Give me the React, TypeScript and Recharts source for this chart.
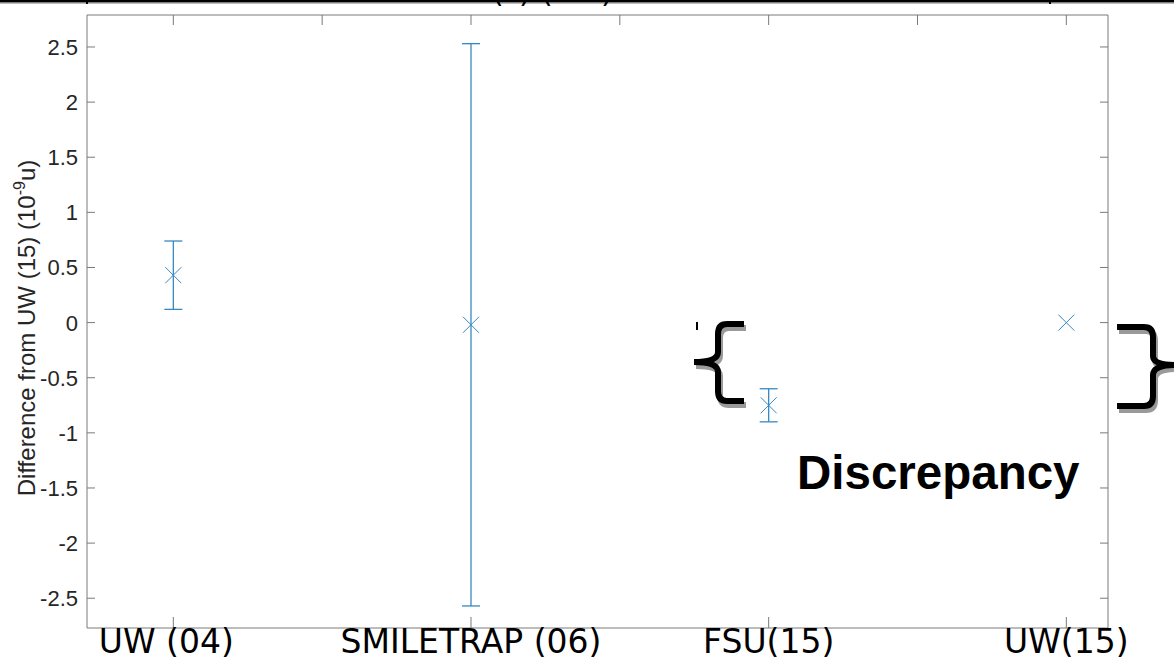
import React from "react";
import {
  ScatterChart,
  Scatter,
  XAxis,
  YAxis,
  ErrorBar,
} from "recharts";

// ---------------------------------------------------------------------------
// Data
// ---------------------------------------------------------------------------

const categories = ["UW (04)", "SMILETRAP (06)", "FSU(15)", "UW(15)"];
const positions = [1, 2, 3, 4];
const differences = [0.43, -0.02, -0.75, 0.0];
const uncertainties: (number | null)[] = [0.31, 2.55, 0.15, null];

const yTicks = [-2.5, -2, -1.5, -1, -0.5, 0, 0.5, 1, 1.5, 2, 2.5];
const topTicks = [1, 1.5, 2, 2.5, 3, 3.5, 4];

const points = positions.map((pos, i) => ({
  pos,
  diff: differences[i],
  err: uncertainties[i],
}));

// ---------------------------------------------------------------------------
// Styles
// ---------------------------------------------------------------------------

const W = 1174;
const H = 659;
const BLUE = "#3589c2";
const AXIS = "#7a7a7a";
const TICK_FONT = '"Liberation Sans", Arial, sans-serif';
const CAT_FONT = '"DejaVu Sans", sans-serif';
const X_DOMAIN: [number, number] = [0.71, 4.14];
const Y_DOMAIN: [number, number] = [-2.77, 2.79];

function CrossMarker(props: any) {
  const { cx, cy } = props;
  if (cx == null || cy == null) return null;
  const s = 8;
  return (
    <g stroke={BLUE} strokeWidth={1}>
      <line x1={cx - s} y1={cy - s} x2={cx + s} y2={cy + s} />
      <line x1={cx - s} y1={cy + s} x2={cx + s} y2={cy - s} />
    </g>
  );
}

function EmptyTick() {
  return <g />;
}

// category labels under the axis; the first one sits a little left of its tick
function CategoryTick(props: any) {
  const { x, y, payload, index } = props;
  const label = categories[positions.indexOf(payload.value)] ?? "";
  return (
    <text
      x={x + (index === 0 ? -7 : 0)}
      y={y + 22}
      textAnchor="middle"
      fontFamily={CAT_FONT}
      fontSize={33}
      fill="#000"
    >
      {label}
    </text>
  );
}

function ValueTick(props: any) {
  const { x, y, payload } = props;
  return (
    <text
      x={x}
      y={y + 8}
      textAnchor="end"
      fontFamily={TICK_FONT}
      fontSize={22}
      fill="#262626"
    >
      {String(payload.value)}
    </text>
  );
}

// annotations drawn on top of the chart
function Overlay() {
  const leftBrace =
    "M 744 324 L 727 324 Q 718 324 718 334 L 718 352 Q 718 362 694 362 Q 718 362 718 372 L 718 391 Q 718 401 727 401 L 744 401";
  const rightBrace =
    "M 1117 327 L 1144 327 Q 1153 327 1153 337 L 1153 356 Q 1153 365 1176 365 Q 1153 365 1153 375 L 1153 396 Q 1153 406 1144 406 L 1117 406";
  return (
    <svg
      width={W}
      height={H}
      style={{ position: "absolute", left: 0, top: 0, pointerEvents: "none" }}
    >
      {/* remains of the slide header */}
      <rect x={0} y={0} width={W} height={2.5} fill="#000" />
      <line x1={0} y1={3.5} x2={W} y2={3.5} stroke="#bbb" strokeWidth={1} />
      <line x1={87} y1={0} x2={87} y2={4} stroke="#000" strokeWidth={2} />
      <line x1={1050} y1={0} x2={1050} y2={4} stroke="#000" strokeWidth={2} />
      <g fontFamily={CAT_FONT} fontSize={30} fill="#000">
        <text x={492} y={2}>(</text>
        <text x={519} y={2}>)</text>
        <text x={541} y={2}>(</text>
        <text x={601} y={2}>)</text>
      </g>

      {/* y axis title */}
      <text
        x={35}
        y={328}
        transform="rotate(-90 35 328)"
        textAnchor="middle"
        fontFamily={TICK_FONT}
        fontSize={24}
        fill="#262626"
      >
        Difference from UW (15) (10
        <tspan dy={-10} fontSize={16}>
          -9
        </tspan>
        <tspan dy={10}>u)</tspan>
      </text>

      {/* braces */}
      <g fill="none">
        <path d={leftBrace} stroke="#9a9a9a" strokeWidth={6} transform="translate(2 4)" />
        <path d={leftBrace} stroke="#000" strokeWidth={6} />
        <path d={rightBrace} stroke="#9a9a9a" strokeWidth={6} transform="translate(2 4)" />
        <path d={rightBrace} stroke="#000" strokeWidth={6} />
      </g>
      <line x1={697} y1={322} x2={697} y2={330} stroke="#000" strokeWidth={2} />

      <text
        x={797}
        y={489}
        fontFamily={TICK_FONT}
        fontWeight="bold"
        fontSize={47.5}
        fill="#000"
      >
        Discrepancy
      </text>
    </svg>
  );
}

export default function App() {
  return (
    <div
      style={{
        position: "absolute",
        left: 0,
        top: 0,
        width: W,
        height: H,
        background: "#fff",
        overflow: "hidden",
      }}
    >
      <ScatterChart
        width={W}
        height={H}
        margin={{ top: 14, right: 65, bottom: 0, left: 0 }}
      >
        <XAxis
          xAxisId="bottom"
          dataKey="pos"
          type="number"
          domain={X_DOMAIN}
          ticks={positions}
          interval={0}
          height={31}
          tickSize={-11}
          tickMargin={14}
          axisLine={{ stroke: AXIS }}
          tickLine={{ stroke: AXIS }}
          tick={<CategoryTick />}
          allowDataOverflow
        />
        <XAxis
          xAxisId="top"
          orientation="top"
          dataKey="pos"
          type="number"
          domain={X_DOMAIN}
          ticks={topTicks}
          interval={0}
          height={1}
          tickSize={-10}
          axisLine={{ stroke: AXIS }}
          tickLine={{ stroke: AXIS }}
          tick={<EmptyTick />}
          allowDataOverflow
        />
        <YAxis
          yAxisId="left"
          dataKey="diff"
          type="number"
          domain={Y_DOMAIN}
          ticks={yTicks}
          interval={0}
          width={87}
          tickSize={-8}
          tickMargin={17}
          axisLine={{ stroke: AXIS }}
          tickLine={{ stroke: AXIS }}
          tick={<ValueTick />}
          allowDataOverflow
        />
        <YAxis
          yAxisId="right"
          orientation="right"
          dataKey="diff"
          type="number"
          domain={Y_DOMAIN}
          ticks={yTicks}
          interval={0}
          width={1}
          tickSize={-8}
          axisLine={{ stroke: AXIS }}
          tickLine={{ stroke: AXIS }}
          tick={<EmptyTick />}
          allowDataOverflow
        />
        <Scatter
          data={points}
          xAxisId="bottom"
          yAxisId="left"
          shape={<CrossMarker />}
          isAnimationActive={false}
        >
          <ErrorBar
            dataKey="err"
            direction="y"
            width={9}
            stroke={BLUE}
            strokeWidth={1.3}
            isAnimationActive={false}
          />
        </Scatter>
      </ScatterChart>
      <Overlay />
    </div>
  );
}
